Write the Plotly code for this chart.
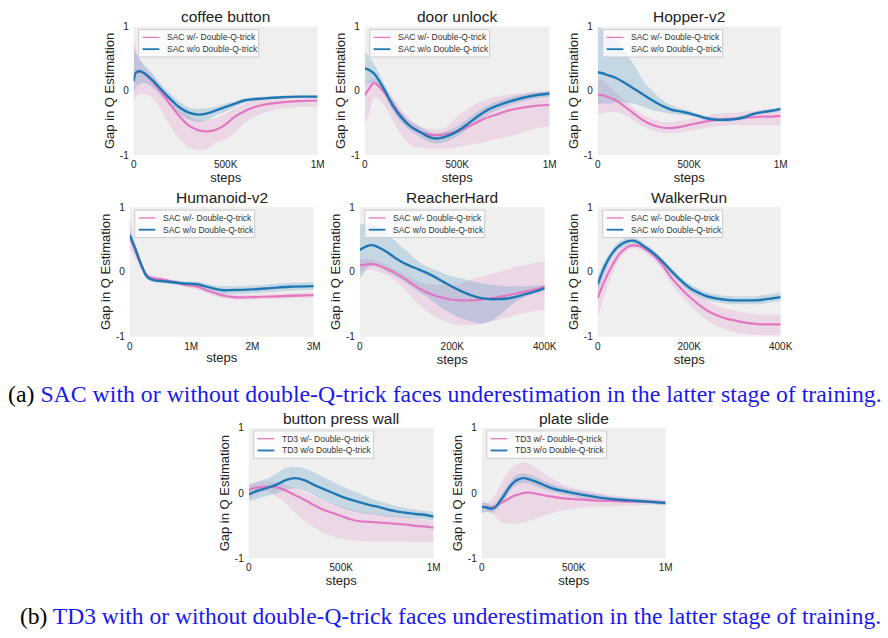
import plotly.graph_objects as go

PINK = "#e377c2"
BLUE = "#1f77b4"
PINK_FILL = "rgba(227,119,194,0.20)"
BLUE_FILL = "rgba(31,119,180,0.20)"

# ---------------- data (steps in thousands) ----------------
# coffee button (SAC)
coffee_steps = [0, 10, 30, 60, 100, 150, 200, 250, 300, 350, 400, 450, 500, 550, 600, 650, 700, 800, 900, 1000]
coffee_w_mean = [0.15, 0.27, 0.3, 0.26, 0.15, -0.02, -0.22, -0.4, -0.54, -0.61, -0.63, -0.6, -0.52, -0.4, -0.32, -0.26, -0.22, -0.18, -0.16, -0.15]
coffee_w_up = [0.8, 0.7, 0.5, 0.35, 0.25, 0.05, -0.1, -0.25, -0.38, -0.45, -0.45, -0.42, -0.35, -0.28, -0.2, -0.15, -0.13, -0.12, -0.12, -0.1]
coffee_w_lo = [-0.2, -0.1, -0.05, -0.05, -0.1, -0.3, -0.55, -0.75, -0.88, -0.92, -0.9, -0.8, -0.75, -0.65, -0.5, -0.42, -0.35, -0.28, -0.25, -0.25]
coffee_wo_mean = [0.15, 0.28, 0.31, 0.27, 0.17, 0.02, -0.13, -0.26, -0.34, -0.37, -0.35, -0.3, -0.25, -0.2, -0.15, -0.13, -0.12, -0.1, -0.09, -0.09]
coffee_wo_up = [0.65, 0.6, 0.5, 0.4, 0.28, 0.1, -0.05, -0.17, -0.26, -0.28, -0.27, -0.24, -0.2, -0.16, -0.12, -0.1, -0.09, -0.08, -0.07, -0.07]
coffee_wo_lo = [-0.05, 0.05, 0.1, 0.12, 0.06, -0.08, -0.22, -0.36, -0.45, -0.48, -0.45, -0.38, -0.32, -0.25, -0.19, -0.16, -0.14, -0.12, -0.11, -0.11]

# door unlock (SAC)
door_steps = [0, 20, 50, 100, 150, 200, 250, 300, 350, 380, 400, 450, 500, 550, 600, 650, 700, 800, 900, 1000]
door_w_mean = [-0.07, 0.02, 0.12, 0.0, -0.2, -0.4, -0.55, -0.64, -0.68, -0.69, -0.69, -0.67, -0.63, -0.57, -0.5, -0.43, -0.38, -0.29, -0.24, -0.22]
door_w_up = [0.1, 0.15, 0.2, 0.05, -0.1, -0.3, -0.45, -0.55, -0.6, -0.6, -0.6, -0.55, -0.4, -0.3, -0.2, -0.15, -0.1, -0.05, -0.02, 0.0]
door_w_lo = [-0.5, -0.4, -0.1, -0.2, -0.45, -0.7, -0.85, -0.88, -0.9, -0.9, -0.9, -0.9, -0.88, -0.85, -0.82, -0.8, -0.75, -0.7, -0.6, -0.55]
door_wo_mean = [0.35, 0.33, 0.27, 0.05, -0.22, -0.42, -0.56, -0.64, -0.72, -0.74, -0.74, -0.7, -0.63, -0.53, -0.42, -0.32, -0.25, -0.15, -0.08, -0.04]
door_wo_up = [0.6, 0.55, 0.42, 0.14, -0.13, -0.34, -0.48, -0.56, -0.64, -0.66, -0.66, -0.62, -0.55, -0.45, -0.34, -0.25, -0.18, -0.09, -0.03, 0.0]
door_wo_lo = [0.1, 0.12, 0.12, -0.04, -0.3, -0.5, -0.63, -0.72, -0.8, -0.82, -0.82, -0.78, -0.71, -0.61, -0.5, -0.4, -0.32, -0.21, -0.13, -0.09]

# Hopper-v2 (SAC)
hopper_steps = [0, 30, 50, 100, 150, 200, 250, 300, 350, 400, 450, 500, 550, 600, 650, 700, 750, 800, 850, 900, 950, 1000]
hopper_w_mean = [-0.06, -0.07, -0.09, -0.15, -0.25, -0.36, -0.46, -0.53, -0.57, -0.58, -0.56, -0.53, -0.5, -0.47, -0.45, -0.44, -0.43, -0.42, -0.41, -0.4, -0.4, -0.39]
hopper_w_up = [0.18, 0.15, 0.1, -0.02, -0.15, -0.27, -0.37, -0.44, -0.48, -0.49, -0.47, -0.44, -0.41, -0.38, -0.36, -0.35, -0.34, -0.32, -0.31, -0.3, -0.3, -0.28]
hopper_w_lo = [-0.35, -0.35, -0.33, -0.33, -0.38, -0.47, -0.56, -0.62, -0.65, -0.66, -0.65, -0.62, -0.6, -0.57, -0.55, -0.54, -0.53, -0.53, -0.53, -0.53, -0.53, -0.53]
hopper_wo_mean = [0.29, 0.27, 0.25, 0.2, 0.12, 0.03, -0.06, -0.15, -0.23, -0.29, -0.32, -0.35, -0.39, -0.43, -0.45, -0.45, -0.44, -0.41, -0.36, -0.33, -0.31, -0.28]
hopper_wo_up = [1.0, 0.95, 0.9, 0.78, 0.6, 0.4, 0.15, 0.0, -0.13, -0.22, -0.27, -0.31, -0.36, -0.4, -0.42, -0.42, -0.41, -0.38, -0.33, -0.3, -0.28, -0.25]
hopper_wo_lo = [-0.2, -0.2, -0.2, -0.18, -0.18, -0.2, -0.25, -0.3, -0.33, -0.36, -0.37, -0.39, -0.42, -0.46, -0.48, -0.48, -0.47, -0.44, -0.39, -0.36, -0.34, -0.31]

# Humanoid-v2 (SAC)
humanoid_steps = [0, 50, 100, 150, 200, 250, 300, 400, 500, 700, 900, 1100, 1300, 1500, 1700, 2000, 2300, 2600, 3000]
humanoid_w_mean = [0.54, 0.42, 0.3, 0.18, 0.07, -0.02, -0.07, -0.1, -0.11, -0.15, -0.2, -0.23, -0.3, -0.36, -0.39, -0.39, -0.38, -0.37, -0.36]
humanoid_w_up = [0.85, 0.6, 0.42, 0.27, 0.13, 0.03, -0.03, -0.06, -0.08, -0.12, -0.17, -0.2, -0.26, -0.32, -0.35, -0.35, -0.34, -0.33, -0.32]
humanoid_w_lo = [0.35, 0.28, 0.2, 0.1, 0.01, -0.07, -0.12, -0.14, -0.15, -0.18, -0.23, -0.27, -0.34, -0.4, -0.43, -0.43, -0.42, -0.41, -0.4]
humanoid_wo_mean = [0.57, 0.45, 0.33, 0.2, 0.08, -0.03, -0.09, -0.13, -0.14, -0.16, -0.18, -0.19, -0.24, -0.28, -0.28, -0.27, -0.25, -0.23, -0.22]
humanoid_wo_up = [0.65, 0.52, 0.39, 0.25, 0.12, 0.0, -0.06, -0.1, -0.11, -0.13, -0.15, -0.15, -0.19, -0.22, -0.22, -0.21, -0.19, -0.17, -0.16]
humanoid_wo_lo = [0.5, 0.38, 0.27, 0.15, 0.04, -0.06, -0.12, -0.16, -0.17, -0.19, -0.21, -0.23, -0.29, -0.34, -0.34, -0.33, -0.31, -0.29, -0.28]

# ReacherHard (SAC)
reacher_steps = [0, 10, 20, 30, 40, 60, 80, 100, 120, 140, 160, 180, 200, 220, 240, 260, 280, 300, 320, 340, 360, 380, 400]
reacher_w_mean = [0.1, 0.11, 0.12, 0.12, 0.1, 0.04, -0.03, -0.12, -0.22, -0.3, -0.36, -0.4, -0.43, -0.44, -0.44, -0.43, -0.41, -0.39, -0.36, -0.33, -0.3, -0.27, -0.23]
reacher_w_up = [0.2, 0.2, 0.2, 0.18, 0.16, 0.1, 0.02, -0.05, -0.12, -0.18, -0.2, -0.2, -0.2, -0.18, -0.12, -0.08, -0.04, 0.0, 0.04, 0.08, 0.11, 0.14, 0.16]
reacher_w_lo = [0.0, 0.02, 0.03, 0.03, 0.0, -0.05, -0.15, -0.3, -0.45, -0.58, -0.68, -0.75, -0.8, -0.82, -0.82, -0.8, -0.77, -0.74, -0.7, -0.66, -0.63, -0.6, -0.58]
reacher_wo_mean = [0.34, 0.38, 0.41, 0.41, 0.38, 0.3, 0.2, 0.12, 0.06, 0.0, -0.07, -0.15, -0.23, -0.3, -0.36, -0.4, -0.42, -0.42, -0.41, -0.38, -0.34, -0.3, -0.25]
reacher_wo_up = [0.73, 0.74, 0.73, 0.72, 0.68, 0.58, 0.45, 0.33, 0.2, 0.1, 0.04, -0.02, -0.07, -0.1, -0.14, -0.17, -0.19, -0.21, -0.22, -0.22, -0.22, -0.21, -0.2]
reacher_wo_lo = [-0.09, 0.0, 0.08, 0.1, 0.08, 0.0, -0.08, -0.17, -0.27, -0.36, -0.47, -0.57, -0.65, -0.72, -0.76, -0.8, -0.77, -0.68, -0.56, -0.45, -0.38, -0.33, -0.3]

# WalkerRun (SAC)
walker_steps = [0, 10, 20, 30, 40, 50, 60, 70, 80, 90, 100, 120, 140, 160, 180, 200, 220, 240, 260, 280, 300, 320, 340, 360, 380, 400]
walker_w_mean = [-0.4, -0.22, -0.06, 0.08, 0.2, 0.3, 0.36, 0.4, 0.41, 0.4, 0.37, 0.27, 0.12, -0.08, -0.24, -0.38, -0.5, -0.6, -0.67, -0.72, -0.75, -0.78, -0.8, -0.81, -0.81, -0.81]
walker_w_up = [-0.15, 0.0, 0.1, 0.2, 0.29, 0.36, 0.41, 0.44, 0.45, 0.44, 0.41, 0.32, 0.19, 0.02, -0.13, -0.26, -0.36, -0.45, -0.52, -0.57, -0.6, -0.63, -0.65, -0.66, -0.66, -0.66]
walker_w_lo = [-0.7, -0.48, -0.25, -0.06, 0.1, 0.22, 0.3, 0.35, 0.37, 0.35, 0.32, 0.2, 0.04, -0.18, -0.35, -0.5, -0.64, -0.75, -0.83, -0.89, -0.93, -0.96, -0.97, -0.98, -0.98, -0.98]
walker_wo_mean = [-0.19, 0.0, 0.15, 0.27, 0.36, 0.42, 0.46, 0.48, 0.48, 0.45, 0.4, 0.3, 0.17, 0.02, -0.12, -0.24, -0.32, -0.38, -0.41, -0.43, -0.44, -0.44, -0.44, -0.43, -0.41, -0.39]
walker_wo_up = [-0.05, 0.1, 0.23, 0.33, 0.42, 0.48, 0.52, 0.54, 0.53, 0.5, 0.45, 0.35, 0.22, 0.07, -0.07, -0.18, -0.26, -0.32, -0.35, -0.37, -0.38, -0.38, -0.38, -0.36, -0.34, -0.32]
walker_wo_lo = [-0.35, -0.1, 0.08, 0.21, 0.3, 0.36, 0.4, 0.42, 0.42, 0.4, 0.35, 0.25, 0.12, -0.03, -0.17, -0.3, -0.38, -0.44, -0.47, -0.49, -0.5, -0.5, -0.5, -0.49, -0.47, -0.45]

# button press wall (TD3)
button_steps = [0, 50, 100, 150, 200, 250, 300, 350, 400, 450, 500, 550, 600, 650, 700, 750, 800, 850, 900, 950, 1000]
button_w_mean = [0.05, 0.09, 0.1, 0.09, 0.04, -0.03, -0.1, -0.18, -0.25, -0.3, -0.35, -0.4, -0.43, -0.44, -0.45, -0.46, -0.47, -0.48, -0.5, -0.51, -0.53]
button_w_up = [0.15, 0.17, 0.18, 0.17, 0.13, 0.08, 0.02, -0.04, -0.1, -0.15, -0.2, -0.25, -0.28, -0.3, -0.32, -0.34, -0.36, -0.37, -0.39, -0.41, -0.43]
button_w_lo = [-0.08, 0.0, 0.02, -0.05, -0.15, -0.3, -0.42, -0.52, -0.6, -0.66, -0.7, -0.72, -0.73, -0.74, -0.74, -0.74, -0.74, -0.74, -0.75, -0.75, -0.75]
button_wo_mean = [-0.02, 0.04, 0.08, 0.13, 0.2, 0.23, 0.2, 0.13, 0.07, 0.01, -0.05, -0.1, -0.14, -0.18, -0.21, -0.25, -0.28, -0.3, -0.32, -0.33, -0.36]
button_wo_up = [0.12, 0.18, 0.22, 0.3, 0.38, 0.4, 0.38, 0.32, 0.25, 0.18, 0.11, 0.05, -0.01, -0.07, -0.12, -0.16, -0.2, -0.23, -0.25, -0.27, -0.29]
button_wo_lo = [-0.12, -0.08, -0.04, 0.0, 0.05, 0.07, 0.04, -0.03, -0.1, -0.16, -0.22, -0.27, -0.3, -0.32, -0.34, -0.36, -0.37, -0.38, -0.39, -0.4, -0.42]

# plate slide (TD3)
plate_steps = [0, 25, 50, 75, 100, 125, 150, 175, 200, 225, 250, 300, 350, 400, 450, 500, 600, 700, 800, 900, 1000]
plate_w_mean = [-0.21, -0.21, -0.22, -0.2, -0.16, -0.12, -0.08, -0.04, -0.02, 0.0, 0.01, -0.01, -0.04, -0.06, -0.08, -0.09, -0.11, -0.12, -0.13, -0.13, -0.14]
plate_w_up = [-0.15, -0.15, -0.12, -0.02, 0.12, 0.25, 0.35, 0.42, 0.46, 0.47, 0.46, 0.38, 0.28, 0.2, 0.13, 0.08, 0.02, -0.03, -0.06, -0.08, -0.1]
plate_w_lo = [-0.27, -0.28, -0.3, -0.36, -0.43, -0.47, -0.47, -0.47, -0.46, -0.45, -0.43, -0.38, -0.33, -0.29, -0.26, -0.24, -0.21, -0.2, -0.19, -0.18, -0.18]
plate_wo_mean = [-0.21, -0.22, -0.24, -0.21, -0.12, -0.02, 0.09, 0.17, 0.21, 0.23, 0.22, 0.17, 0.11, 0.06, 0.03, 0.0, -0.05, -0.09, -0.11, -0.13, -0.15]
plate_wo_up = [-0.12, -0.15, -0.18, -0.15, -0.05, 0.06, 0.16, 0.25, 0.29, 0.3, 0.29, 0.24, 0.17, 0.12, 0.08, 0.05, 0.0, -0.05, -0.08, -0.1, -0.12]
plate_wo_lo = [-0.31, -0.29, -0.3, -0.27, -0.19, -0.09, 0.02, 0.1, 0.14, 0.16, 0.15, 0.1, 0.05, 0.01, -0.02, -0.05, -0.1, -0.13, -0.14, -0.16, -0.18]

# tick labels
ticks_1m_vals = [0, 500, 1000]
ticks_1m_text = ["0", "500K", "1M"]
ticks_3m_vals = [0, 1000, 2000, 3000]
ticks_3m_text = ["0", "1M", "2M", "3M"]
ticks_400k_vals = [0, 200, 400]
ticks_400k_text = ["0", "200K", "400K"]
y_tick_vals = [-1, 0, 1]
y_tick_text = ["-1", "0", "1"]

panels = [
    ("coffee button", "SAC", coffee_steps, coffee_w_mean, coffee_w_up, coffee_w_lo, coffee_wo_mean, coffee_wo_up, coffee_wo_lo, ticks_1m_vals, ticks_1m_text, 1000),
    ("door unlock", "SAC", door_steps, door_w_mean, door_w_up, door_w_lo, door_wo_mean, door_wo_up, door_wo_lo, ticks_1m_vals, ticks_1m_text, 1000),
    ("Hopper-v2", "SAC", hopper_steps, hopper_w_mean, hopper_w_up, hopper_w_lo, hopper_wo_mean, hopper_wo_up, hopper_wo_lo, ticks_1m_vals, ticks_1m_text, 1000),
    ("Humanoid-v2", "SAC", humanoid_steps, humanoid_w_mean, humanoid_w_up, humanoid_w_lo, humanoid_wo_mean, humanoid_wo_up, humanoid_wo_lo, ticks_3m_vals, ticks_3m_text, 3000),
    ("ReacherHard", "SAC", reacher_steps, reacher_w_mean, reacher_w_up, reacher_w_lo, reacher_wo_mean, reacher_wo_up, reacher_wo_lo, ticks_400k_vals, ticks_400k_text, 400),
    ("WalkerRun", "SAC", walker_steps, walker_w_mean, walker_w_up, walker_w_lo, walker_wo_mean, walker_wo_up, walker_wo_lo, ticks_400k_vals, ticks_400k_text, 400),
    ("button press wall", "TD3", button_steps, button_w_mean, button_w_up, button_w_lo, button_wo_mean, button_wo_up, button_wo_lo, ticks_1m_vals, ticks_1m_text, 1000),
    ("plate slide", "TD3", plate_steps, plate_w_mean, plate_w_up, plate_w_lo, plate_wo_mean, plate_wo_up, plate_wo_lo, ticks_1m_vals, ticks_1m_text, 1000),
]

# plot-area boxes in pixels: left, right, top, bottom
boxes = [
    (133, 320, 21, 152), (368, 556, 21, 152), (605, 791, 21, 152),
    (129, 316, 205, 337), (363, 551, 205, 337), (605, 791, 205, 337),
    (250, 438, 430, 563), (487, 674, 430, 563),
]

W, H = 888, 638
FONT = "Liberation Sans, Arial, sans-serif"
fig = go.Figure()
layout = dict(
    width=W, height=H, autosize=False,
    margin=dict(l=0, r=0, t=0, b=0),
    paper_bgcolor="white", plot_bgcolor="#efefef",
    font=dict(family=FONT, color="#222222"),
    showlegend=False,
    annotations=[],
    shapes=[],
)


def px(xp):
    return xp / W


def py(yp):
    return 1 - yp / H


for i, (p, box) in enumerate(zip(panels, boxes), start=1):
    title, algo, xs, wm, wu, wl, om, ou, ol, tv, tt, xmax = p
    L, R, T, B = box
    xa = "x" if i == 1 else f"x{i}"
    ya = "y" if i == 1 else f"y{i}"
    common = dict(xaxis=xa, yaxis=ya, hoverinfo="skip")
    # bands
    fig.add_trace(go.Scatter(x=xs, y=wu, mode="lines", line=dict(width=0, shape="spline", color=PINK_FILL), showlegend=False, **common))
    fig.add_trace(go.Scatter(x=xs, y=wl, mode="lines", line=dict(width=0, shape="spline", color=PINK_FILL), fill="tonexty", fillcolor=PINK_FILL, showlegend=False, **common))
    fig.add_trace(go.Scatter(x=xs, y=ou, mode="lines", line=dict(width=0, shape="spline", color=BLUE_FILL), showlegend=False, **common))
    fig.add_trace(go.Scatter(x=xs, y=ol, mode="lines", line=dict(width=0, shape="spline", color=BLUE_FILL), fill="tonexty", fillcolor=BLUE_FILL, showlegend=False, **common))
    # means
    name_w = f"{algo} w/- Double-Q-trick"
    name_o = f"{algo} w/o Double-Q-trick"
    fig.add_trace(go.Scatter(x=xs, y=wm, mode="lines", name=name_w, line=dict(width=2.2, color=PINK, shape="spline"), **common))
    fig.add_trace(go.Scatter(x=xs, y=om, mode="lines", name=name_o, line=dict(width=2.4, color=BLUE, shape="spline"), **common))

    axx = dict(domain=[L / W, R / W], anchor=ya, range=[0, xmax], tickvals=tv, ticktext=tt,
               showgrid=False, zeroline=False, showline=False, ticks="",
               ticklabelstandoff=2,
               tickfont=dict(size=10, color="#222222"),
               title=dict(text="steps", font=dict(size=13, color="#222222"), standoff=2))
    axy = dict(domain=[1 - B / H, 1 - T / H], anchor=xa, range=[-1, 1], tickvals=y_tick_vals, ticktext=y_tick_text,
               showgrid=False, zeroline=False, showline=False, ticks="",
               ticklabelstandoff=4,
               tickfont=dict(size=10, color="#222222"),
               title=dict(text="Gap in Q Estimation", font=dict(size=13, color="#222222"), standoff=2))
    layout["xaxis" if i == 1 else f"xaxis{i}"] = axx
    layout["yaxis" if i == 1 else f"yaxis{i}"] = axy
    layout["annotations"].append(dict(text=title, x=px((L + R) / 2), y=py(T - 10),
                                      xref="paper", yref="paper", xanchor="center", yanchor="middle",
                                      showarrow=False, font=dict(size=15.5, color="#222222", family=FONT)))
    # legend box (matplotlib-style, compact)
    lx0, ly0 = L + 5, T + 3
    layout["shapes"].append(dict(type="rect", xref="paper", yref="paper",
                                 x0=px(lx0), x1=px(lx0 + 122), y0=py(ly0), y1=py(ly0 + 28),
                                 fillcolor="rgba(255,255,255,0.75)", line=dict(color="#cccccc", width=1)))
    for k, (nm, col, lw) in enumerate([(name_w, PINK, 1.3), (name_o, BLUE, 1.8)]):
        yy = ly0 + 8 + 12 * k
        layout["shapes"].append(dict(type="line", xref="paper", yref="paper",
                                     x0=px(lx0 + 4), x1=px(lx0 + 21), y0=py(yy), y1=py(yy),
                                     line=dict(color=col, width=lw)))
        layout["annotations"].append(dict(text=nm, x=px(lx0 + 27), y=py(yy), xref="paper", yref="paper",
                                          xanchor="left", yanchor="middle", showarrow=False,
                                          font=dict(size=8.5, color="#333333", family=FONT)))

CAP_COLOR = "rgb(25,25,235)"
SERIF = "Liberation Serif, Times New Roman, serif"
layout["annotations"].append(dict(
    text=f"(a) <span style='color:{CAP_COLOR}'>SAC with or without double-Q-trick faces underestimation in the latter stage of training.</span>",
    x=px(449.5), y=py(395), xref="paper", yref="paper", xanchor="center", yanchor="middle",
    showarrow=False, font=dict(size=23.8, color="black", family=SERIF)))
layout["annotations"].append(dict(
    text=f"(b) <span style='color:{CAP_COLOR}'>TD3 with or without double-Q-trick faces underestimation in the latter stage of training.</span>",
    x=px(455), y=py(622), xref="paper", yref="paper", xanchor="center", yanchor="middle",
    showarrow=False, font=dict(size=23.5, color="black", family=SERIF)))

fig.update_layout(**layout)
fig.write_html("out.html")
